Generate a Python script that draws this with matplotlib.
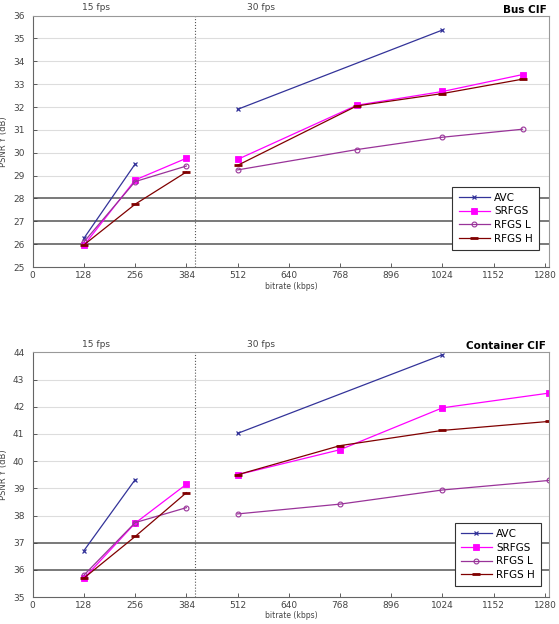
import matplotlib
matplotlib.use('Agg')
import matplotlib.pyplot as plt
import matplotlib.transforms as mtransforms
import numpy as np

nan = np.nan

# ---- data: Bus CIF ----
bus_x = [128, 256, 384, 512, 810, 1024, 1224]
bus_avc = [26.26, 29.51, nan, 31.9, nan, 35.37, nan]
bus_srfgs = [25.95, 28.81, 29.76, 29.71, 32.08, 32.68, 33.42]
bus_rfgs_l = [26.1, 28.74, 29.42, 29.25, 30.14, 30.68, 31.03]
bus_rfgs_h = [25.97, 27.75, 29.16, 29.45, 32.05, 32.59, 33.22]

# ---- data: Container CIF ----
cont_x = [128, 256, 384, 512, 768, 1024, 1290]
cont_avc = [36.71, 39.32, nan, 41.02, nan, 43.91, nan]
cont_srfgs = [35.69, 37.72, 39.15, 39.5, 40.42, 41.96, 42.5]
cont_rfgs_l = [35.81, 37.74, 38.29, 38.06, 38.42, 38.94, 39.29]
cont_rfgs_h = [35.7, 37.23, 38.84, 39.5, 40.57, 41.13, 41.46]

x_ticks = [0, 128, 256, 384, 512, 640, 768, 896, 1024, 1152, 1280]
series_names = ['AVC', 'SRFGS', 'RFGS L', 'RFGS H']
fps_split = 405

styles = [
    dict(color='#333399', marker='x', ms=3.5, mew=0.9),
    dict(color='#ff00ff', marker='s', ms=3.8, mew=0.6),
    dict(color='#993399', marker='o', ms=3.5, mfc='none', mew=0.8),
    dict(color='#800000', marker='_', ms=5.5, mew=2.0),
]


def draw(ax, x, series, ylo, yhi, dark_lines, title, legend_anchor):
    x = np.array(x, dtype=float)
    segs = [slice(0, 3), slice(3, len(x))]
    handles = []
    for ys, st, name in zip(series, styles, series_names):
        ys = np.array(ys, dtype=float)
        h = None
        for s in segs:
            xs, yv = x[s], ys[s]
            ok = ~np.isnan(yv)
            h, = ax.plot(xs[ok], yv[ok], lw=0.9, label=name, **st)
        handles.append(h)

    ax.set_xlim(0, 1290)
    ax.set_ylim(ylo, yhi)
    ax.set_xticks(x_ticks)
    ax.set_yticks(range(ylo, yhi + 1))
    ax.tick_params(direction='in', length=3, labelsize=6.5, colors='#444444',
                   width=0.6)
    ax.tick_params(axis='y', pad=6)
    ax.tick_params(axis='x', pad=3)
    for yv in range(ylo + 1, yhi):
        if yv in dark_lines:
            ax.axhline(yv, color='#555555', lw=1.1, zorder=0)
        else:
            ax.axhline(yv, color='#dddddd', lw=0.8, zorder=0)
    ax.axvline(fps_split, color='#555555', lw=0.8, ls=':', zorder=1)
    for sp in ax.spines.values():
        sp.set_color('#999999')
        sp.set_linewidth(0.8)
    ax.spines['left'].set_color('#666666')
    ax.spines['bottom'].set_color('#666666')

    ax.set_xlabel('bitrate (kbps)', fontsize=5.5, color='#444444')
    ax.xaxis.set_label_coords(0.5, -0.058)
    ax.set_ylabel('PSNR Y (dB)', fontsize=6, color='#444444')
    ax.yaxis.set_label_coords(-0.048, 0.5)

    trans = mtransforms.blended_transform_factory(ax.transData, ax.transAxes)
    ax.text(159, 1.015, '15 fps', transform=trans, fontsize=6.5,
            color='#444444', ha='center', va='bottom')
    ax.text(571, 1.015, '30 fps', transform=trans, fontsize=6.5,
            color='#444444', ha='center', va='bottom')
    ax.text(0.995, 1.004, title, transform=ax.transAxes, fontsize=7.5,
            fontweight='bold', ha='right', va='bottom')

    leg = ax.legend(handles=handles, loc='lower right',
                    bbox_to_anchor=legend_anchor, fontsize=7.5, frameon=True,
                    fancybox=False, framealpha=1, edgecolor='#333333',
                    handlelength=3.0, labelspacing=0.35, borderpad=0.6,
                    handletextpad=0.4, borderaxespad=0)
    leg.get_frame().set_linewidth(0.8)
    leg.set_zorder(5)


fig = plt.figure(figsize=(5.59, 6.24), dpi=100)
ax1 = fig.add_axes([0.0585, 0.572, 0.9235, 0.403])
ax2 = fig.add_axes([0.0585, 0.043, 0.9235, 0.3924])

draw(ax1, bus_x, [bus_avc, bus_srfgs, bus_rfgs_l, bus_rfgs_h], 25, 36,
     [26, 27, 28], 'Bus CIF', (0.981, 0.068))
draw(ax2, cont_x, [cont_avc, cont_srfgs, cont_rfgs_l, cont_rfgs_h], 35, 44,
     [36, 37], 'Container CIF', (0.985, 0.045))

fig.savefig('out.png', dpi=100)
